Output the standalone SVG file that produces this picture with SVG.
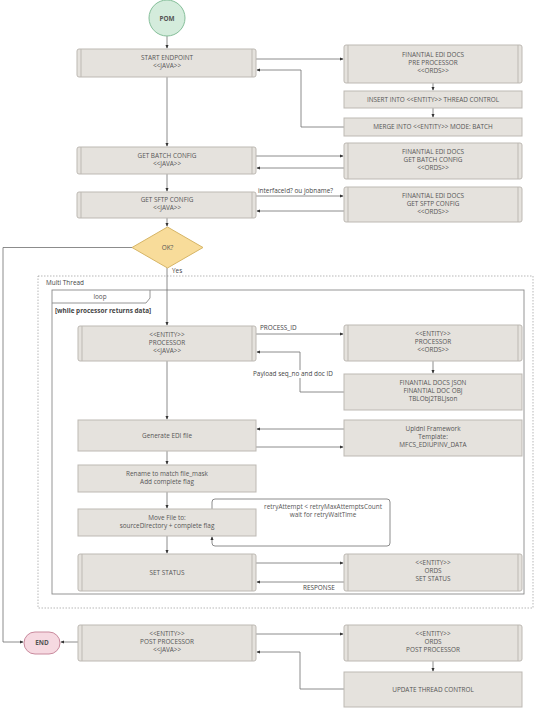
<svg xmlns="http://www.w3.org/2000/svg" width="541" height="708" viewBox="0 0 541 708">
<style>
.b{fill:#e5e2dd;stroke:#bdb9b3;stroke-width:1}
.s{stroke:#bdb9b3;stroke-width:1}
.t{font-family:"Open Sans","Liberation Sans",sans-serif;font-size:6.4px;fill:#555;text-anchor:middle}
.l{font-family:"Open Sans","Liberation Sans",sans-serif;font-size:6.4px;fill:#444}
.c{fill:none;stroke:#6e6e6e;stroke-width:0.8}
</style>
<defs>
<marker id="a" viewBox="0 0 6 6" refX="5" refY="3" markerWidth="5" markerHeight="5" orient="auto"><path d="M0,0.5 L6,3 L0,5.5 z" fill="#333"/></marker>
</defs>
<rect x="0" y="0" width="541" height="708" fill="#fff"/>

<g id="multithread">
<rect x="38" y="276" width="495" height="332" fill="none" stroke="#999" stroke-width="0.7" stroke-dasharray="1.5,1.5"/>
<text class="l" x="46" y="285" fill="#666">Multi Thread</text>
</g>
<g id="loop">
<rect x="52" y="290" width="472" height="304" fill="none" stroke="#8a8a8a" stroke-width="0.9"/>
<path d="M52,303 H146 L150,298 V290" fill="none" stroke="#8a8a8a" stroke-width="0.9"/>
<text class="t" x="100" y="299" fill="#777">loop</text>
<text class="l" x="55" y="313" font-weight="bold" fill="#333">[while processor returns data]</text>
</g>

<g id="connectors">
<path class="c" d="M167,36 V48" marker-end="url(#a)"/>
<path class="c" d="M256,59 H343" marker-end="url(#a)"/>
<path class="c" d="M433,83 V90" marker-end="url(#a)"/>
<path class="c" d="M433,108 V117" marker-end="url(#a)"/>
<path class="c" d="M344,127 H301 V70 H257" marker-end="url(#a)"/>
<path class="c" d="M167,77 V146" marker-end="url(#a)"/>
<path class="c" d="M256,156 H343" marker-end="url(#a)"/>
<path class="c" d="M344,168 H257" marker-end="url(#a)"/>
<path class="c" d="M167,174 V191" marker-end="url(#a)"/>
<path class="c" d="M256,196 H343" marker-end="url(#a)"/>
<path class="c" d="M344,211 H257" marker-end="url(#a)"/>
<path class="c" d="M167,218 V226" marker-end="url(#a)"/>
<path class="c" d="M132,247.5 H3 V642 H23" marker-end="url(#a)"/>
<path class="c" d="M167,268 V325" marker-end="url(#a)"/>
<path class="c" d="M256,334 H343" marker-end="url(#a)"/>
<path class="c" d="M433,361 V373" marker-end="url(#a)"/>
<path class="c" d="M344,392 H300 V352 H257" marker-end="url(#a)"/>
<path class="c" d="M167,361 V419" marker-end="url(#a)"/>
<path class="c" d="M344,429 H257" marker-end="url(#a)"/>
<path class="c" d="M256,447 H343" marker-end="url(#a)"/>
<path class="c" d="M167,451 V464" marker-end="url(#a)"/>
<path class="c" d="M167,492 V508" marker-end="url(#a)"/>
<path class="c" d="M212,509 V502 Q212,499 215,499 H387 Q390,499 390,502 V543 Q390,546 387,546 H215 Q212,546 212,543 V537" marker-end="url(#a)"/>
<path class="c" d="M167,536 V553" marker-end="url(#a)"/>
<path class="c" d="M256,563 H343" marker-end="url(#a)"/>
<path class="c" d="M344,582 H257" marker-end="url(#a)"/>
<path class="c" d="M78,642 H61" marker-end="url(#a)"/>
<path class="c" d="M256,634 H343" marker-end="url(#a)"/>
<path class="c" d="M433,661 V671" marker-end="url(#a)"/>
<path class="c" d="M344,689 H300 V652 H257" marker-end="url(#a)"/>
<text class="l" x="258" y="193">interfaceId? ou jobname?</text>
<text class="l" x="172" y="273">Yes</text>
<text class="l" x="260" y="330">PROCESS_ID</text>
<rect x="252" y="370" width="82" height="8" fill="#fff"/>
<text class="l" x="253" y="376">Payload  seq_no and doc ID</text>
<text class="t" x="323" y="509">retryAttempt &lt; retryMaxAttemptsCount</text>
<text class="t" x="323" y="517">wait for retryWaitTime</text>
<text class="l" x="303" y="590">RESPONSE</text>
</g>

<g id="pom">
<circle cx="167" cy="18" r="18" fill="#d4ecdc" stroke="#86bf9a" stroke-width="1"/>
<text class="t" x="167" y="20.5" font-weight="bold" fill="#333">POM</text>
</g>

<g id="start">
<rect class="b" x="77" y="49" width="179" height="28" rx="2"/>
<path class="s" d="M81,49 V77 M252,49 V77"/>
<text class="t" x="167" y="60">START ENDPOINT</text>
<text class="t" x="167" y="68">&lt;&lt;JAVA&gt;&gt;</text>
</g>
<g id="preproc">
<rect class="b" x="344" y="45" width="178" height="38" rx="2"/>
<path class="s" d="M348,45 V83 M518,45 V83"/>
<text class="t" x="433" y="57">FINANTIAL EDI DOCS</text>
<text class="t" x="433" y="65">PRE PROCESSOR</text>
<text class="t" x="433" y="73">&lt;&lt;ORDS&gt;&gt;</text>
</g>
<g id="insert">
<rect class="b" x="344" y="91" width="178" height="17"/>
<text class="t" x="433" y="101.5">INSERT INTO &lt;&lt;ENTITY&gt;&gt; THREAD CONTROL</text>
</g>
<g id="merge">
<rect class="b" x="344" y="118" width="178" height="18"/>
<text class="t" x="433" y="129">MERGE INTO &lt;&lt;ENTITY&gt;&gt; MODE: BATCH</text>
</g>

<g id="getbatch">
<rect class="b" x="77" y="147" width="179" height="27" rx="2"/>
<path class="s" d="M81,147 V174 M252,147 V174"/>
<text class="t" x="167" y="158">GET BATCH CONFIG</text>
<text class="t" x="167" y="166">&lt;&lt;JAVA&gt;&gt;</text>
</g>
<g id="ordsbatch">
<rect class="b" x="344" y="143" width="178" height="36" rx="2"/>
<path class="s" d="M348,143 V179 M518,143 V179"/>
<text class="t" x="433" y="154">FINANTIAL EDI DOCS</text>
<text class="t" x="433" y="162">GET BATCH CONFIG</text>
<text class="t" x="433" y="170">&lt;&lt;ORDS&gt;&gt;</text>
</g>

<g id="getsftp">
<rect class="b" x="77" y="192" width="179" height="26" rx="2"/>
<path class="s" d="M81,192 V218 M252,192 V218"/>
<text class="t" x="167" y="202">GET SFTP CONFIG</text>
<text class="t" x="167" y="210">&lt;&lt;JAVA&gt;&gt;</text>
</g>
<g id="ordssftp">
<rect class="b" x="344" y="187" width="178" height="35" rx="2"/>
<path class="s" d="M348,187 V222 M518,187 V222"/>
<text class="t" x="433" y="198">FINANTIAL EDI DOCS</text>
<text class="t" x="433" y="206">GET SFTP CONFIG</text>
<text class="t" x="433" y="214">&lt;&lt;ORDS&gt;&gt;</text>
</g>

<g id="ok">
<polygon points="167.5,227 203,247.5 167.5,268 132,247.5" fill="#f8dc9a" stroke="#d6b566" stroke-width="1"/>
<text class="t" x="167.5" y="250">OK?</text>
</g>

<g id="procjava">
<rect class="b" x="78" y="326" width="178" height="35" rx="2"/>
<path class="s" d="M82,326 V361 M252,326 V361"/>
<text class="t" x="167" y="337">&lt;&lt;ENTITY&gt;&gt;</text>
<text class="t" x="167" y="345">PROCESSOR</text>
<text class="t" x="167" y="353">&lt;&lt;JAVA&gt;&gt;</text>
</g>
<g id="procords">
<rect class="b" x="344" y="325" width="178" height="36" rx="2"/>
<path class="s" d="M348,325 V361 M518,325 V361"/>
<text class="t" x="433" y="336">&lt;&lt;ENTITY&gt;&gt;</text>
<text class="t" x="433" y="344">PROCESSOR</text>
<text class="t" x="433" y="352">&lt;&lt;ORDS&gt;&gt;</text>
</g>
<g id="docsjson">
<rect class="b" x="344" y="374" width="178" height="36"/>
<text class="t" x="433" y="385">FINANTIAL DOCS JSON</text>
<text class="t" x="433" y="393">FINANTIAL DOC OBJ</text>
<text class="t" x="433" y="401">TBLObj2TBLJson</text>
</g>

<g id="genedi">
<rect class="b" x="78" y="420" width="178" height="31"/>
<text class="t" x="167" y="438">Generate EDI file</text>
</g>
<g id="upldnl">
<rect class="b" x="344" y="420" width="178" height="36"/>
<text class="t" x="433" y="431">Upldnl Framework</text>
<text class="t" x="433" y="439">Template:</text>
<text class="t" x="433" y="447">MFCS_EDIUPINV_DATA</text>
</g>
<g id="rename">
<rect class="b" x="78" y="465" width="178" height="27"/>
<text class="t" x="167" y="476">Rename to match file_mask</text>
<text class="t" x="167" y="484">Add complete flag</text>
</g>
<g id="movefile">
<rect class="b" x="78" y="509" width="178" height="27"/>
<text class="t" x="167" y="520">Move File to:</text>
<text class="t" x="167" y="528">sourceDirectory + complete flag</text>
</g>

<g id="setstatus">
<rect class="b" x="78" y="554" width="178" height="37" rx="2"/>
<path class="s" d="M82,554 V591 M252,554 V591"/>
<text class="t" x="167" y="574.5">SET STATUS</text>
</g>
<g id="ordssetstatus">
<rect class="b" x="344" y="554" width="178" height="37" rx="2"/>
<path class="s" d="M348,554 V591 M518,554 V591"/>
<text class="t" x="433" y="565">&lt;&lt;ENTITY&gt;&gt;</text>
<text class="t" x="433" y="573">ORDS</text>
<text class="t" x="433" y="581">SET STATUS</text>
</g>

<g id="end">
<rect x="24" y="632" width="36" height="22" rx="11" fill="#f6d9e1" stroke="#c98a9d" stroke-width="1"/>
<text class="t" x="42" y="645" font-weight="bold" fill="#333">END</text>
</g>
<g id="postjava">
<rect class="b" x="78" y="625" width="178" height="36" rx="2"/>
<path class="s" d="M82,625 V661 M252,625 V661"/>
<text class="t" x="167" y="636">&lt;&lt;ENTITY&gt;&gt;</text>
<text class="t" x="167" y="644">POST PROCESSOR</text>
<text class="t" x="167" y="652">&lt;&lt;JAVA&gt;&gt;</text>
</g>
<g id="postords">
<rect class="b" x="344" y="625" width="178" height="36" rx="2"/>
<path class="s" d="M348,625 V661 M518,625 V661"/>
<text class="t" x="433" y="636">&lt;&lt;ENTITY&gt;&gt;</text>
<text class="t" x="433" y="644">ORDS</text>
<text class="t" x="433" y="652">POST PROCESSOR</text>
</g>
<g id="updatethread">
<rect class="b" x="344" y="672" width="178" height="35"/>
<text class="t" x="433" y="691.5">UPDATE THREAD CONTROL</text>
</g>
</svg>
